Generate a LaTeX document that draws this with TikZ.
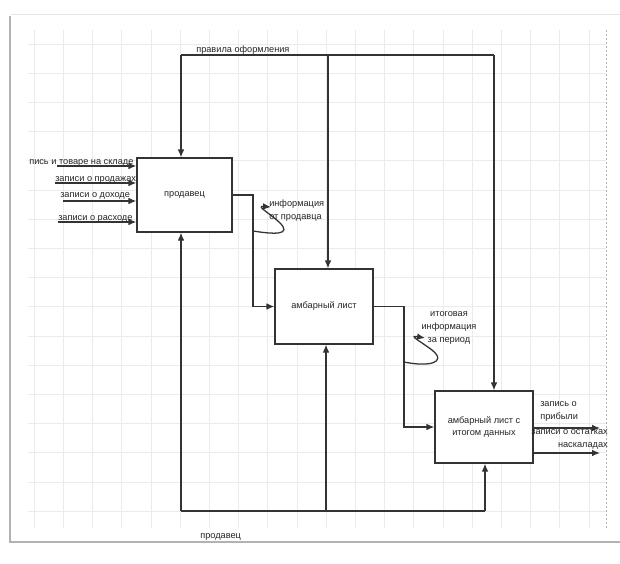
\documentclass[tikz,border=0pt]{standalone}
\usepackage{fontspec}
\setmainfont{Liberation Sans}
\usetikzlibrary{arrows.meta}

\tikzset{
  flow/.style={draw=black!80, line width=0.95pt},
  arr/.style={flow, -{Latex[length=6pt,width=5pt]}},
  func/.style={draw=black!80, line width=0.95pt, fill=white, inner sep=2pt, align=center,
    text=black!85, font=\fontsize{6.9}{9.5}\selectfont},
  lbl/.style={inner sep=0pt, text=black!85, font=\fontsize{6.9}{9.75}\selectfont},
}

\begin{document}
\begin{tikzpicture}[x=0.75pt,y=0.75pt,yscale=-1]
\useasboundingbox (0,0) rectangle (620,563);

% card and grid
\fill[black!30] (9,16) rectangle (620,543);
\fill[white] (11,14) rectangle (620,541);
\draw[black!10] (11,14) -- (620,14);
\foreach \k in {0,...,19} \draw[black!8] ({34+29.2*\k},30) -- ({34+29.2*\k},528);
\foreach \k in {0,...,16} \draw[black!8] (28,{43.8+29.2*\k}) -- (606,{43.8+29.2*\k});
\draw[black!30, dash pattern=on 1.5pt off 1.5pt] (606,30) -- (606,528);

% Function boxes
\node[func, minimum width=71.25pt, minimum height=55.5pt] (seller) at (184.5,195) {продавец};
\node[func, minimum width=73.5pt, minimum height=56.25pt] (list) at (324,306.5) {амбарный лист};
\node[func, minimum width=73.5pt, minimum height=54pt] (total) at (484,427) {амбарный лист с\\итогом данных};

%Straight Lines (controls)
\coordinate (ruleL) at (181,55);
\coordinate (ruleM) at (328,55);
\coordinate (ruleR) at (494,55);
\draw[flow] (ruleL) -- (ruleR);
\draw[arr] (ruleL) -- (ruleL |- seller.north);
\draw[arr] (ruleM) -- (ruleM |- list.north);
\draw[arr] (ruleR) -- (ruleR |- total.north);

%Straight Lines (mechanisms)
\coordinate (mechL) at (181,511);
\coordinate (mechM) at (326,511);
\coordinate (mechR) at (485,511);
\draw[flow] (mechL) -- (mechR);
\draw[arr] (mechL) -- (mechL |- seller.south);
\draw[arr] (mechM) -- (mechM |- list.south);
\draw[arr] (mechR) -- (mechR |- total.south);

%Straight Lines (inputs)
\coordinate (inA) at (57,166);
\coordinate (inB) at (55,183);
\coordinate (inC) at (63,201);
\coordinate (inD) at (58,222);
\foreach \p in {inA,inB,inC,inD} \draw[arr] (\p) -- (\p -| seller.west);

%Straight Lines (between boxes)
\coordinate (jA) at (253,306.5);
\coordinate (jB) at (404,427);
\draw[arr] (seller.east) -| (jA) -- (list.west);
\draw[arr] (list.east) -| (jB) -- (total.west);

%Straight Lines (outputs)
\coordinate (outA) at (600,428);
\coordinate (outB) at (600,453);
\draw[arr] (total.east |- outA) -- (outA);
\draw[arr] (total.east |- outB) -- (outB);

%Curve Lines (squiggles)
\coordinate (sqA) at (253,231);
\coordinate (tipA) at (271,207);
\draw[arr] (sqA) .. controls (272,234) and (294,236) .. (279,222) .. controls (268,212) and (256,206) .. (tipA);
\coordinate (sqB) at (404,362);
\coordinate (tipB) at (425,338);
\draw[arr] (sqB) .. controls (428,367) and (448,363) .. (432,350) .. controls (420,341) and (408,335) .. (tipB);

% Text Node
\node[lbl, anchor=base west] (rules) at (196,53) {правила оформления};
% Text Node
\node[lbl, anchor=base west] (mech) at (200,538) {продавец};
% Text Node
\node[lbl, anchor=base west] (lblA) at (29,164) {пись и товаре на складе};
\node[lbl, anchor=base west] (lblB) at (55,181) {записи о продажах};
\node[lbl, anchor=base west] (lblC) at (60,197) {записи о доходе};
\node[lbl, anchor=base west] (lblD) at (58,220) {записи о расходе};
% Text Node
\node[lbl, anchor=north west, align=left] (infoA) at (269,200) {информация\\от продавца};
\node[lbl, anchor=north, align=center] (infoB) at (449,311) {итоговая\\информация\\за период};
% Text Node
\node[lbl, anchor=north west, align=left] (outLblA) at (540,401) {запись о\\прибыли};
\node[lbl, anchor=north east, align=right] (outLblB) at (608,429) {записи о остатках\\наскаладах};

\end{tikzpicture}
\end{document}
